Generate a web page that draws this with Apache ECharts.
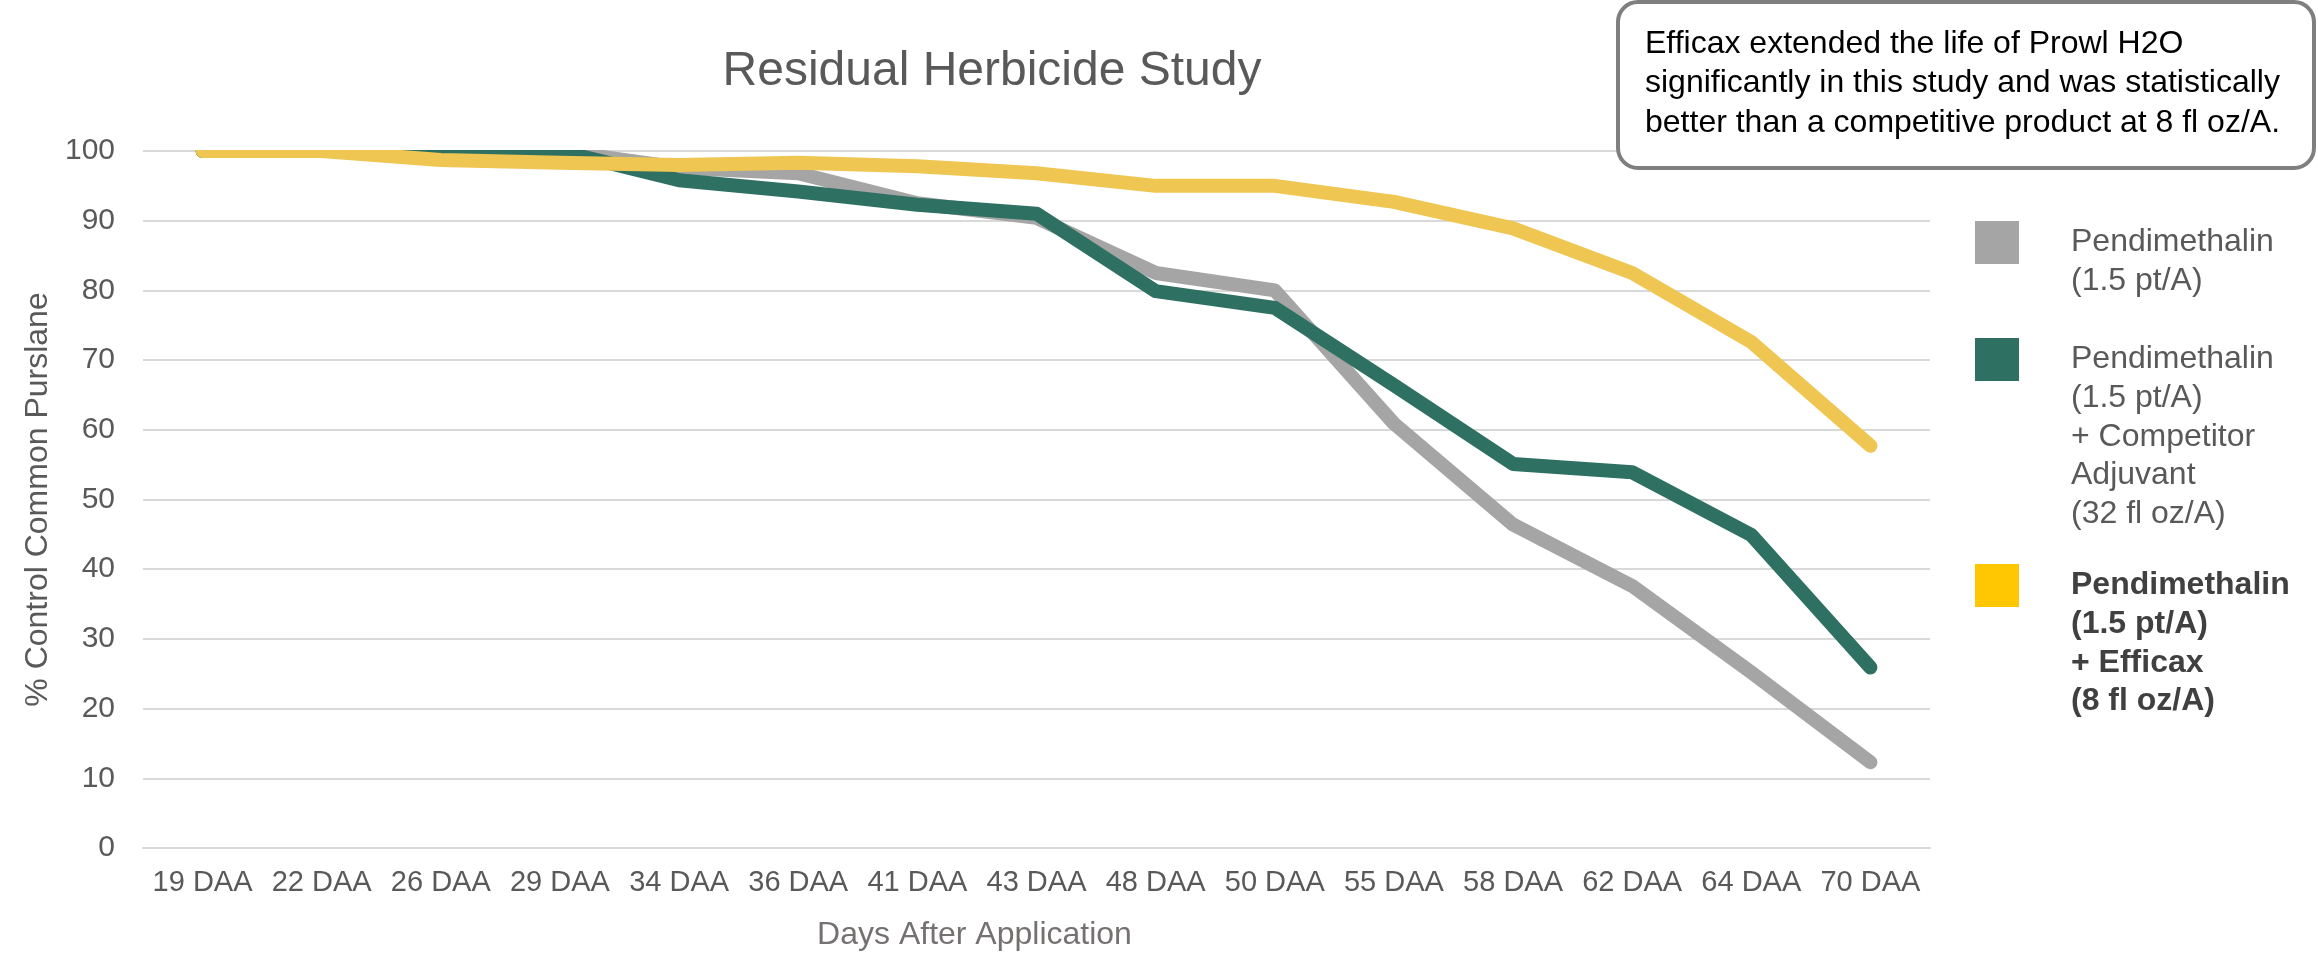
<!DOCTYPE html>
<html>
<head>
<meta charset="utf-8">
<title>Residual Herbicide Study</title>
<script src="https://cdn.jsdelivr.net/npm/echarts@6.0.0/dist/echarts.min.js"></script>
<style>
  html, body { margin: 0; padding: 0; background: #fff; }
  #chart { width: 2318px; height: 956px; }
</style>
</head>
<body>
<div id="chart"></div>
<script>
const FONT = "'Liberation Sans', Arial, sans-serif"

const categories = ['19 DAA', '22 DAA', '26 DAA', '29 DAA', '34 DAA', '36 DAA', '41 DAA', '43 DAA',
  '48 DAA', '50 DAA', '55 DAA', '58 DAA', '62 DAA', '64 DAA', '70 DAA']

const pendimethalin = [100, 100, 100, 100, 97.6, 96.8, 92.5, 90.4, 82.5, 80.0, 60.9, 46.4, 37.6, 25.2, 12.3]
const withCompetitor = [100, 100, 100, 100, 95.8, 94.2, 92.3, 91.0, 79.9, 77.5, 66.4, 55.1, 53.9, 44.9, 25.9]
const withEfficax = [100, 100, 98.7, 98.3, 98.0, 98.3, 97.8, 96.8, 95.0, 95.0, 92.7, 88.9, 82.5, 72.6, 57.7]

const seriesNames = [
  'Pendimethalin\n(1.5 pt/A)',
  'Pendimethalin\n(1.5 pt/A)\n+ Competitor\nAdjuvant\n(32 fl oz/A)',
  'Pendimethalin\n(1.5 pt/A)\n+ Efficax\n(8 fl oz/A)'
]

const noteText = 'Efficax extended the life of Prowl H2O\nsignificantly in this study and was statistically\nbetter than a competitive product at 8 fl oz/A.'

const LEGEND_LINE = 38.6
const ICON_H = 43

// legend text is centred on the icon, so pad with empty lines above
// to put the first text line level with the square
function makeLegend(name, iconTop, bold) {
  const lines = name.split('\n').length
  const extra = ((2 * lines - 1) * LEGEND_LINE - ICON_H) / 2
  return {
    show: true,
    orient: 'vertical',
    left: 1975,
    top: iconTop - Math.max(extra, 0),
    padding: 0,
    itemWidth: 44,
    itemHeight: ICON_H,
    icon: 'rect',
    selectedMode: false,
    data: [name],
    formatter: n => '\n'.repeat(lines - 1) + n,
    textStyle: {
      fontFamily: FONT,
      fontSize: 32,
      lineHeight: LEGEND_LINE,
      color: bold ? '#404040' : '#595959',
      fontWeight: bold ? 'bold' : 'normal',
      padding: [0, 0, 0, 47]
    }
  }
}

function lineSeries(name, data, lineColor, iconColor) {
  return {
    name,
    type: 'line',
    data,
    showSymbol: false,
    symbol: 'none',
    itemStyle: { color: iconColor },
    lineStyle: { color: lineColor, width: 14, cap: 'round', join: 'round' },
    emphasis: { disabled: true }
  }
}

const chart = echarts.init(document.getElementById('chart'))

chart.setOption({
  animation: false,
  textStyle: { fontFamily: FONT },
  title: {
    text: 'Residual Herbicide Study',
    left: 992,
    top: 48,
    textAlign: 'center',
    padding: 0,
    textStyle: { fontFamily: FONT, fontSize: 48, fontWeight: 'normal', color: '#595959' }
  },
  legend: [
    makeLegend(seriesNames[0], 221, false),
    makeLegend(seriesNames[1], 338, false),
    makeLegend(seriesNames[2], 564, true)
  ],
  grid: { left: 143, right: 388, top: 151, bottom: 106 },
  xAxis: {
    type: 'category',
    data: categories,
    boundaryGap: true,
    name: 'Days After Application',
    nameLocation: 'middle',
    nameGap: 71,
    nameTextStyle: { fontFamily: FONT, fontSize: 32, color: '#767171', padding: [0, 124, 0, 0] },
    axisLine: { lineStyle: { color: '#D9D9D9', width: 2 } },
    axisTick: { show: false },
    axisLabel: { interval: 0, fontFamily: FONT, fontSize: 29, color: '#595959', margin: 20 }
  },
  yAxis: {
    type: 'value',
    min: 0,
    max: 100,
    interval: 10,
    name: '% Control Common Purslane',
    nameLocation: 'middle',
    nameGap: 86,
    nameTextStyle: { fontFamily: FONT, fontSize: 32, color: '#595959' },
    axisLine: { show: false },
    axisTick: { show: false },
    axisLabel: { fontFamily: FONT, fontSize: 30, color: '#595959', margin: 28 },
    splitLine: { lineStyle: { color: '#D9D9D9', width: 2 } }
  },
  series: [
    lineSeries(seriesNames[0], pendimethalin, '#A5A5A5', '#A5A5A5'),
    lineSeries(seriesNames[1], withCompetitor, '#2E7062', '#2E7062'),
    lineSeries(seriesNames[2], withEfficax, '#EFC651', '#FFC602')
  ],
  graphic: [
    // plot area clips the lines at 100 like the original
    {
      type: 'rect',
      shape: { x: 120, y: 128, width: 1830, height: 22 },
      style: { fill: '#fff' },
      silent: true,
      z: 5
    },
    {
      type: 'rect',
      shape: { x: 1618, y: 2, width: 696, height: 166, r: 20 },
      style: { fill: '#fff', stroke: '#7F7F7F', lineWidth: 4 },
      z: 10
    },
    {
      type: 'text',
      x: 1645,
      y: 24,
      style: {
        text: noteText,
        fontFamily: FONT,
        fontSize: 32,
        lineHeight: 39.5,
        fill: '#000',
        verticalAlign: 'top'
      },
      z: 11
    }
  ]
})
</script>
</body>
</html>
